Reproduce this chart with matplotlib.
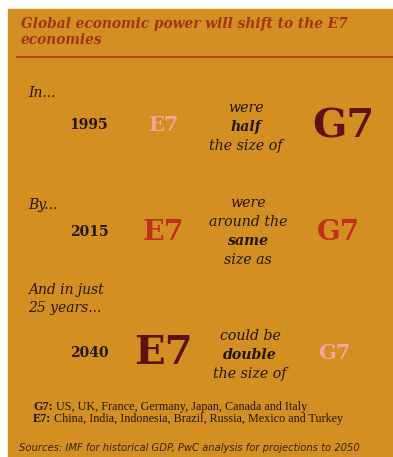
import matplotlib
matplotlib.use("Agg")
import matplotlib.pyplot as plt
from matplotlib.patches import Rectangle

W, H = 393, 457
BG = "#D38F22"
DARK = "#23160C"
TITLE_RED = "#A5321A"
PINK = "#F2A79E"
RED = "#C2301B"
MAROON = "#5C1312"
SERIF = "DejaVu Serif"

TITLE = "Global economic power will shift to the E7\neconomies"
INTROS = ["In...", "By...", "And in just\n25 years..."]
YEARS = ["1995", "2015", "2040"]
PHRASES = [
    ("were", "half", "the size of"),
    ("were\naround the", "same", "size as"),
    ("could be", "double", "the size of"),
]
G7_LIST = "US, UK, France, Germany, Japan, Canada and Italy"
E7_LIST = "China, India, Indonesia, Brazil, Russia, Mexico and Turkey"
SOURCE = "Sources: IMF for historical GDP, PwC analysis for projections to 2050"

# layout per row
ROW_INTRO_Y = [93, 205, 299]
ROW_Y = [125, 232, 353]
PHRASE_Y = [127, 241, 355]
PHRASE_X = [246, 248, 250]
E7_STYLE = [(15, PINK), (20.5, RED), (29, MAROON)]
G7_STYLE = [(29, MAROON), (20, RED), (15, PINK)]
G7_X = [343, 338, 334]
G7_Y = [127, 232, 353]

fig = plt.figure(figsize=(W / 100, H / 100), dpi=100)
ax = fig.add_axes([0, 0, 1, 1])
ax.set_xlim(0, W)
ax.set_ylim(H, 0)
ax.axis("off")

ax.add_patch(Rectangle((8, 9), W - 8, H - 9, color=BG, zorder=0))

ax.text(21, 32, TITLE, fontsize=9.9, family=SERIF, weight="bold", style="italic",
        color=TITLE_RED, ha="left", va="center", linespacing=1.2)
ax.plot([17, W], [57, 57], color="#B0401C", lw=1.3)

for i in range(3):
    ax.text(28, ROW_INTRO_Y[i], INTROS[i], fontsize=10, family=SERIF, style="italic",
            color=DARK, ha="left", va="center", linespacing=1.45)
    ax.text(89, ROW_Y[i], YEARS[i], fontsize=10, family=SERIF, weight="bold",
            color=DARK, ha="center", va="center")
    size, col = E7_STYLE[i]
    ax.text(163, ROW_Y[i], "E7", fontsize=size, family=SERIF, weight="bold",
            color=col, ha="center", va="center")
    size, col = G7_STYLE[i]
    ax.text(G7_X[i], G7_Y[i], "G7", fontsize=size, family=SERIF, weight="bold",
            color=col, ha="center", va="center")

    top, mid, bottom = PHRASES[i]
    lines = top.split("\n")
    step = 19
    y0 = PHRASE_Y[i] - step * len(lines)
    for j, line in enumerate(lines):
        ax.text(PHRASE_X[i], y0 + j * step, line, fontsize=10.2, family=SERIF,
                style="italic", color=DARK, ha="center", va="center")
    ax.text(PHRASE_X[i], PHRASE_Y[i], mid, fontsize=10.2, family=SERIF, weight="bold",
            style="italic", color=DARK, ha="center", va="center")
    ax.text(PHRASE_X[i], PHRASE_Y[i] + step, bottom, fontsize=10.2, family=SERIF,
            style="italic", color=DARK, ha="center", va="center")

for k, (lab, body) in enumerate([("G7:", G7_LIST), ("E7:", E7_LIST)]):
    y = 407 + k * 12
    t = ax.text(33, y, lab, fontsize=8.7, family="Liberation Serif", weight="bold",
                color=DARK, ha="left", va="center")
    ax.annotate(" " + body, xy=(1, 0.5), xycoords=t, fontsize=8.7,
                family="Liberation Serif", color=DARK, ha="left", va="center")

ax.text(19, 448, SOURCE, fontsize=7.2, family="DejaVu Sans", style="italic",
        color="#3A2410", ha="left", va="center")

fig.savefig("out.png", dpi=100)
